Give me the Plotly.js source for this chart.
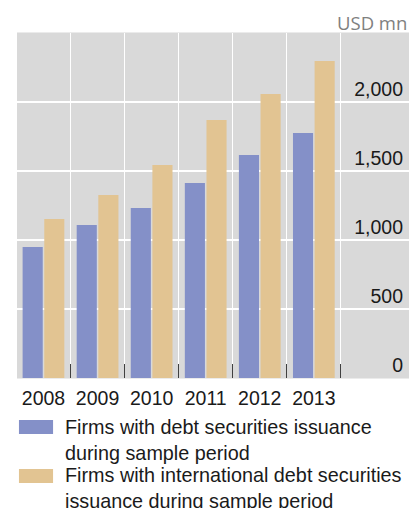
<!DOCTYPE html>
<html>
<head>
<meta charset="utf-8">
<script src="https://cdn.plot.ly/plotly-3.0.1.min.js"></script>
<style>html,body{margin:0;padding:0;background:#fff;}#chart{width:417px;height:508px;}</style>
</head>
<body>
<div id="chart"></div>
<script>
const years = ["2008", "2009", "2010", "2011", "2012", "2013"];
const seriesNames = [
  "Firms with debt securities issuance<br>during sample period",
  "Firms with international debt securities<br>issuance during sample period"
];
const debtIssuers = [949, 1109, 1232, 1413, 1616, 1775];
const intlDebtIssuers = [1152, 1326, 1543, 1870, 2058, 2297];
const yTicks = [0, 500, 1000, 1500, 2000];
const unitLabel = "USD mn";
const colors = ["#8490c8", "#e2c492"];

const FONT = "Liberation Sans, Arial, sans-serif";

const traces = [
  {type: "bar", x: years, y: debtIssuers, name: seriesNames[0], marker: {color: colors[0]}, showlegend: false, hoverinfo: "skip"},
  {type: "bar", x: years, y: intlDebtIssuers, name: seriesNames[1], marker: {color: colors[1]}, showlegend: false, hoverinfo: "skip"}
];

// custom legend (wide swatches)
const legendRows = [{sy0: -0.1217, sy1: -0.1623, ty: -0.1030}, {sy0: -0.2638, sy1: -0.3043, ty: -0.2445}];
const shapes = legendRows.map((r, i) => ({
  type: "rect", xref: "paper", yref: "paper", x0: 0.005, x1: 0.092, y0: r.sy0, y1: r.sy1,
  fillcolor: colors[i], line: {width: 0}
}));
const annotations = legendRows.map((r, i) => ({
  xref: "paper", yref: "paper", x: 0.117, y: r.ty, xanchor: "left", yanchor: "top",
  text: seriesNames[i], showarrow: false, align: "left",
  font: {family: FONT, size: 19.8, color: "#1a1a1a"}
}));
annotations.push({
  xref: "paper", yref: "paper", x: 1.0, y: 0.988, xanchor: "right", yanchor: "bottom",
  text: unitLabel, showarrow: false,
  font: {family: "Open Sans, Noto Sans, sans-serif", size: 18.5, color: "#808080"}
});

const layout = {
  width: 417, height: 508,
  margin: {l: 17, r: 8, t: 33, b: 130, pad: 0},
  paper_bgcolor: "#ffffff",
  plot_bgcolor: "#d9d9d9",
  barmode: "group",
  bargap: 0.2,
  bargroupgap: 0.07,
  xaxis: {
    type: "category",
    categoryorder: "array", categoryarray: years,
    range: [-0.49, 6.76],
    tickson: "boundaries",
    ticks: "inside", ticklen: 14, tickwidth: 1, tickcolor: "#404040",
    showgrid: true, gridcolor: "#ffffff", gridwidth: 1.2,
    showline: true, linecolor: "#ebebeb", linewidth: 1, mirror: true,
    tickfont: {family: FONT, size: 19.5, color: "#1a1a1a"},
    ticklabelstandoff: 3,
    fixedrange: true
  },
  yaxis: {
    side: "right",
    range: [0, 2500],
    tickvals: yTicks,
    tickformat: ",",
    ticklabelposition: "inside",
    ticklabeloverflow: "allow",
    ticklabelshift: -13,
    ticklabelstandoff: 3,
    ticks: "",
    showgrid: true, gridcolor: "#ffffff", gridwidth: 1.2,
    zeroline: false, showline: false,
    tickfont: {family: FONT, size: 19.5, color: "#1a1a1a"},
    fixedrange: true
  },
  shapes: shapes,
  annotations: annotations,
  showlegend: false
};

Plotly.newPlot("chart", traces, layout, {staticPlot: true, displayModeBar: false});
</script>
</body>
</html>
